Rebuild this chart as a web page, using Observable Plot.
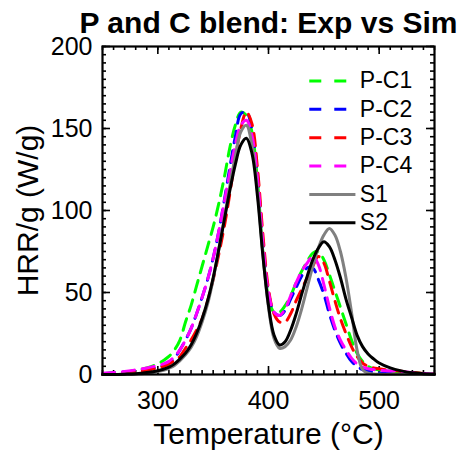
<!DOCTYPE html>
<html><head><meta charset="utf-8">
<script src="https://cdn.jsdelivr.net/npm/d3@7"></script>
<script src="https://cdn.jsdelivr.net/npm/@observablehq/plot@0.6"></script>
<style>body{margin:0;background:#fff;} svg{display:block;}</style>
</head><body><div id="chart"></div>
<script>
const temperature = [250,260,270,280,290,300,305,310,315,320,325,330,335,340,345,350,355,360,365,370,375,380,385,390,395,400,405,410,415,420,425,430,435,440,445,450,455,460,465,470,475,480,485,490,495,500,510,520,530,540,550];
const pc1 = [0.5,1,1.5,2.5,4, 6.5,8.5,11,15,21,32,42,54,66,78,90,104,120,138,152,160,158,148,118,74,47,38,38,42,48,56,63,69,74,75,70,61,51,41,31,21,13,8,5,3.5,2.8, 2,1.5,1,0.6,0.3];
const pc2 = [0.5,1,1.5,2.3,3.2, 4.5,5.5,7,10,15,21,28,37,47,58,71,87,106,126,145,159,160,150,122,80,50,38,36,39,46,53,60,65,65,58,49,37,27,19,13,8,5,3,2,1.4,1, 0.5,0.3,0.2,0.1,0];
const pc3 = [0.3,0.5,1,1.5,2.5, 4,5,6.5,8.5,11,16,21,27,34,45,58,73,90,110,132,150,160,153,126,85,52,37,32,32,37,45,52,59,66,72,68,57,45,34,25,17,11,7,5,4,3.5, 2.5,2,1.2,0.6,0.3];
const pc4 = [0.8,1.2,1.8,2.8,4, 5.5,6.5,8,11,15,21,28,37,47,58,71,87,105,123,140,152,155,146,120,80,50,38,36,40,48,56,63,68,72,67,55,41,29,21,15,10,6.5,4.5,3.5,3,2.6, 2.2,1.8,1.2,0.6,0.3];
const s1 = [0,0,0.1,0.3,0.8, 1.8,2.5,3.8,5.5,8.5,12,16.5,23,32,43,58,76,95,115,133,148,152,140,112,73,41,22,16,17,21,29,40,53,66,77,85,89,85,75,59,38,15,3,0.8,0.3,0.1, 0,0,0,0,0];
const s2 = [0,0,0.2,0.5,1.2, 2.3,3.2,4.5,6.5,9.5,13,18,25,34,45,59,76,94,112,128,140,144,135,109,72,42,24,18,20,27,37,49,60,70,77,81,78,70,59,46,35,24,17,12.5,9.5,7, 4,2.2,1,0.5,0.2];

const seriesNames = ["P-C1","P-C2","P-C3","P-C4","S1","S2"];
const seriesValues = [pc1,pc2,pc3,pc4,s1,s2];
const seriesColors = ["#00ff00","#0000ff","#ff0000","#ff00ff","#808080","#000000"];
const seriesDashed = [true,true,true,true,false,false];

const xTicks = [300,400,500];
const yTicks = [0,50,100,150,200];
const xMinor = d3.range(250, 551, 10);
const yMinor = d3.range(0, 201, 5);

const titleText = "P and C blend: Exp vs Sim";
const xLabel = "Temperature (°C)";
const yLabel = "HRR/g (W/g)";

const W = 465, H = 450, mL = 102, mR = 31, mT = 46, mB = 76;
const fw = W - mL - mR, fh = H - mT - mB;
const xDomain = [250, 550], yDomain = [0, 200];

const rows = seriesNames.flatMap((name, i) =>
  temperature.map((t, j) => ({series: name, t, v: seriesValues[i][j]})));

// legend laid out in data space
const legend = seriesNames.map((name, i) => ({
  name, color: seriesColors[i], dashed: seriesDashed[i],
  y: 179 - i * 17.3, x1: 437.3, x2: 479, xt: 482.5
}));

const marks = [];
const tickStyle = {stroke: "black", strokeWidth: 1.6};
marks.push(Plot.ruleX(xMinor, {x: d => d, insetTop: fh - 4, ...tickStyle}));
marks.push(Plot.ruleX(xMinor, {x: d => d, insetBottom: fh - 4, ...tickStyle}));
marks.push(Plot.ruleX(xTicks, {x: d => d, insetTop: fh - 8, ...tickStyle}));
marks.push(Plot.ruleX(xTicks, {x: d => d, insetBottom: fh - 8, ...tickStyle}));
marks.push(Plot.ruleY(yMinor, {y: d => d, insetRight: fw - 4, ...tickStyle}));
marks.push(Plot.ruleY(yMinor, {y: d => d, insetLeft: fw - 4, ...tickStyle}));
marks.push(Plot.ruleY(yTicks, {y: d => d, insetRight: fw - 8, ...tickStyle}));
marks.push(Plot.ruleY(yTicks, {y: d => d, insetLeft: fw - 8, ...tickStyle}));

seriesNames.forEach((name, i) => {
  marks.push(Plot.line(rows.filter(r => r.series === name), {
    x: "t", y: "v", stroke: seriesColors[i], strokeWidth: 3,
    strokeDasharray: seriesDashed[i] ? "12,8" : null,
    curve: "catmull-rom"
  }));
});

legend.forEach(l => {
  marks.push(Plot.ruleY([l], {y: "y", x1: "x1", x2: "x2", stroke: l.color, strokeWidth: 3,
    strokeDasharray: l.dashed ? "12,13" : null}));
});
marks.push(Plot.text(legend, {x: "xt", y: "y", text: "name", textAnchor: "start", lineAnchor: "middle", fontSize: 23, fill: "black"}));

marks.push(Plot.frame({stroke: "black", strokeWidth: 2.2}));

marks.push(Plot.text(xTicks, {x: d => d, frameAnchor: "bottom", lineAnchor: "middle", dy: 26, fontSize: 25, text: d => String(d)}));
marks.push(Plot.text(yTicks, {y: d => d, frameAnchor: "left", textAnchor: "end", lineAnchor: "middle", dx: -10, fontSize: 25, text: d => String(d)}));
marks.push(Plot.text([xLabel], {frameAnchor: "bottom", textAnchor: "middle", lineAnchor: "middle", dy: 60, fontSize: 30}));
marks.push(Plot.text([yLabel], {frameAnchor: "left", textAnchor: "middle", lineAnchor: "middle", rotate: -90, dx: -74, fontSize: 30}));
marks.push(Plot.text([titleText], {frameAnchor: "top", textAnchor: "middle", lineAnchor: "middle", dy: -23, fontSize: 30, fontWeight: "bold"}));

const chart = Plot.plot({
  width: W, height: H,
  marginLeft: mL, marginRight: mR, marginTop: mT, marginBottom: mB,
  style: {fontFamily: "'Liberation Sans', Arial, Helvetica, sans-serif", background: "white", color: "black"},
  x: {domain: xDomain, axis: null},
  y: {domain: yDomain, axis: null},
  marks
});
document.getElementById("chart").appendChild(chart);
</script>
</body></html>
